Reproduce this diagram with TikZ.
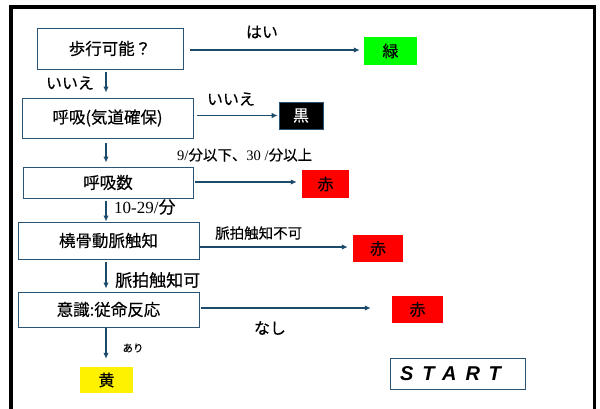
\documentclass[tikz,border=0pt]{standalone}
\usepackage{fontspec}
\setmainfont{Liberation Serif}
\newfontfamily\jp[FakeBold=0.3]{Noto Sans CJK JP}
\newfontfamily\startfont[LetterSpace=45]{Liberation Sans}
\usetikzlibrary{arrows.meta}
\definecolor{boxline}{HTML}{2A5475}
\definecolor{arrline}{HTML}{1B4A6B}
\tikzset{
  flowbox/.style={draw=boxline, line width=0.9pt, fill=white, inner sep=0pt, font=\jp\fontsize{16.5}{18}\selectfont},
  tagbox/.style={inner sep=0pt, font=\jp\fontsize{16}{18}\selectfont},
  arr/.style={draw=arrline, line width=1.9pt, -{Latex[length=6pt,width=5.5pt]}},
  lbl/.style={inner sep=0pt, font=\jp\fontsize{16}{18}\selectfont},
}
\begin{document}
\begin{tikzpicture}[x=1pt,y=-1pt]
\useasboundingbox (0,0) rectangle (600,408);
\draw[line width=3.5pt] (11,410) -- (11,7) -- (594.5,7) -- (594.5,410);
% flow boxes
\node[flowbox, minimum width=146pt, minimum height=41pt] (b1) at (110,48.5) {歩行可能？};
\node[flowbox, minimum width=171pt, minimum height=40pt] (b2) at (107.5,118) {呼吸(気道確保)};
\node[flowbox, minimum width=170pt, minimum height=31pt] (b3) at (108,182.5) {呼吸数};
\node[flowbox, minimum width=181pt, minimum height=37pt] (b4) at (108.5,240.5) {橈骨動脈触知};
\node[flowbox, minimum width=181pt, minimum height=35pt] (b5) at (108.5,309.5) {意識:従命反応};
% tag boxes
\node[tagbox, fill={rgb,255:red,0;green,255;blue,0}, minimum width=53pt, minimum height=28pt] (g) at (390.5,51) {緑};
\node[tagbox, fill=black, text=white, draw=boxline, line width=0.6pt, minimum width=44pt, minimum height=27pt] (k) at (301,115.5) {黒};
\node[tagbox, fill=red, minimum width=47pt, minimum height=28pt] (r1) at (325.5,184) {赤};
\node[tagbox, fill=red, minimum width=50pt, minimum height=27pt] (r2) at (378,248.5) {赤};
\node[tagbox, fill=red, minimum width=51pt, minimum height=27pt] (r3) at (417.5,309.5) {赤};
\node[tagbox, fill=yellow, minimum width=53pt, minimum height=26pt] (y) at (106.5,380) {黄};
\node[draw=boxline, line width=0.9pt, inner sep=0pt, minimum width=135pt, minimum height=31pt, font=\startfont\fontsize{20}{22}\selectfont\bfseries\itshape] (st) at (457.5,373.5) {\makebox[135pt][l]{\hspace{10pt}START}};
% spine for vertical arrows
\coordinate (spine) at (106,0);
% horizontal arrows
\draw[arr, shorten <=7pt, shorten >=4pt] (b1.east |- 0,50) -- (g.west |- 0,50);
\draw[arr, shorten <=4pt, shorten >=1pt] (b2.east |- k.west) -- (k.west);
\draw[arr, shorten <=2pt, shorten >=5pt] (b3.east |- 0,182) -- (r1.west |- 0,182);
\draw[arr, shorten <=1pt, shorten >=5pt] (b4.east |- 0,247) -- (r2.west |- 0,247);
\draw[arr, shorten <=2pt, shorten >=21pt] (b5.east |- 0,308) -- (r3.west |- 0,308);
% vertical arrows
\draw[arr, shorten <=3pt, shorten >=5pt] (b1.south -| spine) -- (b2.north -| spine);
\draw[arr, shorten <=5pt, shorten >=4pt] (b2.south -| spine) -- (b3.north -| spine);
\draw[arr, shorten <=3pt, shorten >=0pt] (b3.south -| spine) -- (b4.north -| spine);
\draw[arr, shorten <=3pt, shorten >=3pt] (b4.south -| spine) -- (b5.north -| spine);
\draw[arr, shorten <=1pt, shorten >=8pt] (b5.south -| spine) -- (y.north -| spine);
% labels
\node[lbl] (l1) at (262,32) {はい};
\node[lbl] (l2) at (70,83) {いいえ};
\node[lbl] (l3) at (231,99) {いいえ};
\node[lbl, anchor=west, font=\fontsize{14.5}{16}\selectfont] (l4) at (177,155) {9/{\jp 分以下、}30 /{\jp 分以上}};
\node[lbl, anchor=west, font=\fontsize{17}{18}\selectfont] (l5) at (114,207) {10-29/{\jp 分}};
\node[lbl, anchor=west, font=\jp\fontsize{14.5}{16}\selectfont] (l6) at (215,233) {脈拍触知不可};
\node[lbl, anchor=west, font=\jp\fontsize{17}{18}\selectfont] (l7) at (115,280) {脈拍触知可};
\node[lbl] (l8) at (270,328) {なし};
\node[lbl, font=\jp\fontsize{10.5}{12}\selectfont] (l9) at (133,348) {あり};
\end{tikzpicture}
\end{document}
